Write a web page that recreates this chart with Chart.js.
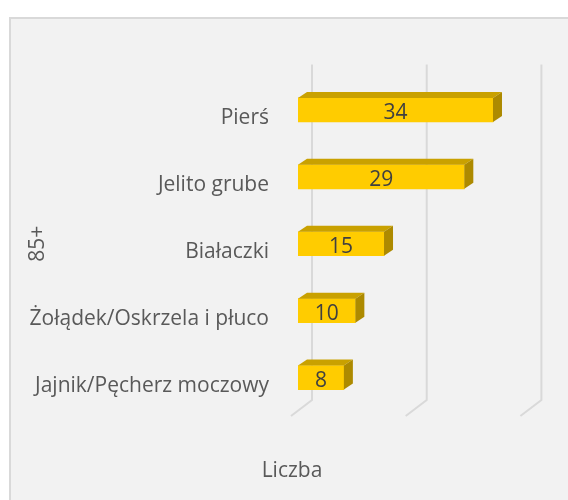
<!DOCTYPE html>
<html>
<head>
<meta charset="utf-8">
<script src="https://cdn.jsdelivr.net/npm/chart.js@4.4.0/dist/chart.umd.min.js"></script>
<style>
  html, body { margin: 0; padding: 0; background: #fff; overflow: hidden; }
  #panel { position: absolute; left: 9px; top: 17px; width: 600px; height: 600px;
           background: #f2f2f2; border: 2px solid #d9d9d9; }
  #chart { position: absolute; left: 0; top: 0; }
</style>
</head>
<body>
<div id="panel"></div>
<canvas id="chart" width="568" height="500"></canvas>
<script>
const categories = ["Pierś", "Jelito grube", "Białaczki", "Żołądek/Oskrzela i płuco", "Jajnik/Pęcherz moczowy"]
const values = [34, 29, 15, 10, 8]
const groupTitle = "85+"
const valueTitle = "Liczba"

const font = { family: "'Open Sans', sans-serif", size: 21 }

// fake 3d: top and side faces on each bar, plus the value inside
const bars3d = {
  id: "bars3d",
  beforeDatasetsDraw(chart) {
    const ctx = chart.ctx
    const xs = chart.scales.x
    const area = chart.chartArea
    ctx.save()
    ctx.strokeStyle = "#d9d9d9"
    ctx.lineWidth = 2
    xs.ticks.forEach(t => {
      const bx = xs.getPixelForValue(t.value) + 14
      ctx.beginPath()
      ctx.moveTo(bx, area.top - 12)
      ctx.lineTo(bx, area.bottom - 11)
      ctx.lineTo(bx - 21, area.bottom + 5)
      ctx.stroke()
    })
    ctx.restore()
  },
  afterDatasetsDraw(chart) {
    const ctx = chart.ctx
    const dx = 9, dy = -6
    ctx.save()
    chart.getDatasetMeta(0).data.forEach((bar, i) => {
      const {x, y, base, height} = bar.getProps(["x", "y", "base", "height"], true)
      const top = y - height / 2, bot = y + height / 2
      ctx.fillStyle = "#c9a100"
      ctx.beginPath()
      ctx.moveTo(base, top)
      ctx.lineTo(x, top)
      ctx.lineTo(x + dx, top + dy)
      ctx.lineTo(base + dx, top + dy)
      ctx.closePath()
      ctx.fill()
      ctx.fillStyle = "#ad8a00"
      ctx.beginPath()
      ctx.moveTo(x, top)
      ctx.lineTo(x + dx, top + dy)
      ctx.lineTo(x + dx, bot + dy)
      ctx.lineTo(x, bot)
      ctx.closePath()
      ctx.fill()

      ctx.fillStyle = "#404040"
      ctx.font = "21px 'Open Sans', sans-serif"
      ctx.textAlign = "center"
      ctx.textBaseline = "middle"
      ctx.fillText(values[i], (base + x) / 2, y + 3)
    })
    ctx.restore()
  }
}

new Chart(document.getElementById("chart"), {
  type: "bar",
  data: {
    labels: categories,
    datasets: [{
      data: values,
      backgroundColor: "#ffcc00",
      borderWidth: 0,
      barThickness: 24
    }]
  },
  options: {
    indexAxis: "y",
    responsive: false,
    animation: false,
    devicePixelRatio: 1,
    layout: { padding: { left: 16, right: 0, top: 76.5, bottom: 0 } },
    plugins: {
      legend: { display: false },
      tooltip: { enabled: false },
      title: {
        display: true,
        text: valueTitle,
        position: "bottom",
        color: "#595959",
        font: { ...font, weight: "normal" },
        padding: { top: 39.4, bottom: 16.4 }
      }
    },
    scales: {
      x: {
        type: "linear",
        min: 0,
        max: 40,
        ticks: { display: false, stepSize: 20 },
        grid: { display: false },
        border: { display: false }
      },
      y: {
        grid: { display: false },
        border: { display: false },
        ticks: { color: "#595959", font: font, padding: 21, labelOffset: 8 },
        title: { display: true, text: groupTitle, color: "#595959", font: font, padding: { top: 9, bottom: 0 } },
        afterFit(s) { s.width = 282 }
      },
      y2: {
        type: "linear",
        position: "right",
        grid: { display: false },
        border: { display: false },
        ticks: { display: false },
        afterFit(s) { s.width = 40.6 }
      }
    }
  },
  plugins: [bars3d]
})
</script>
</body>
</html>
